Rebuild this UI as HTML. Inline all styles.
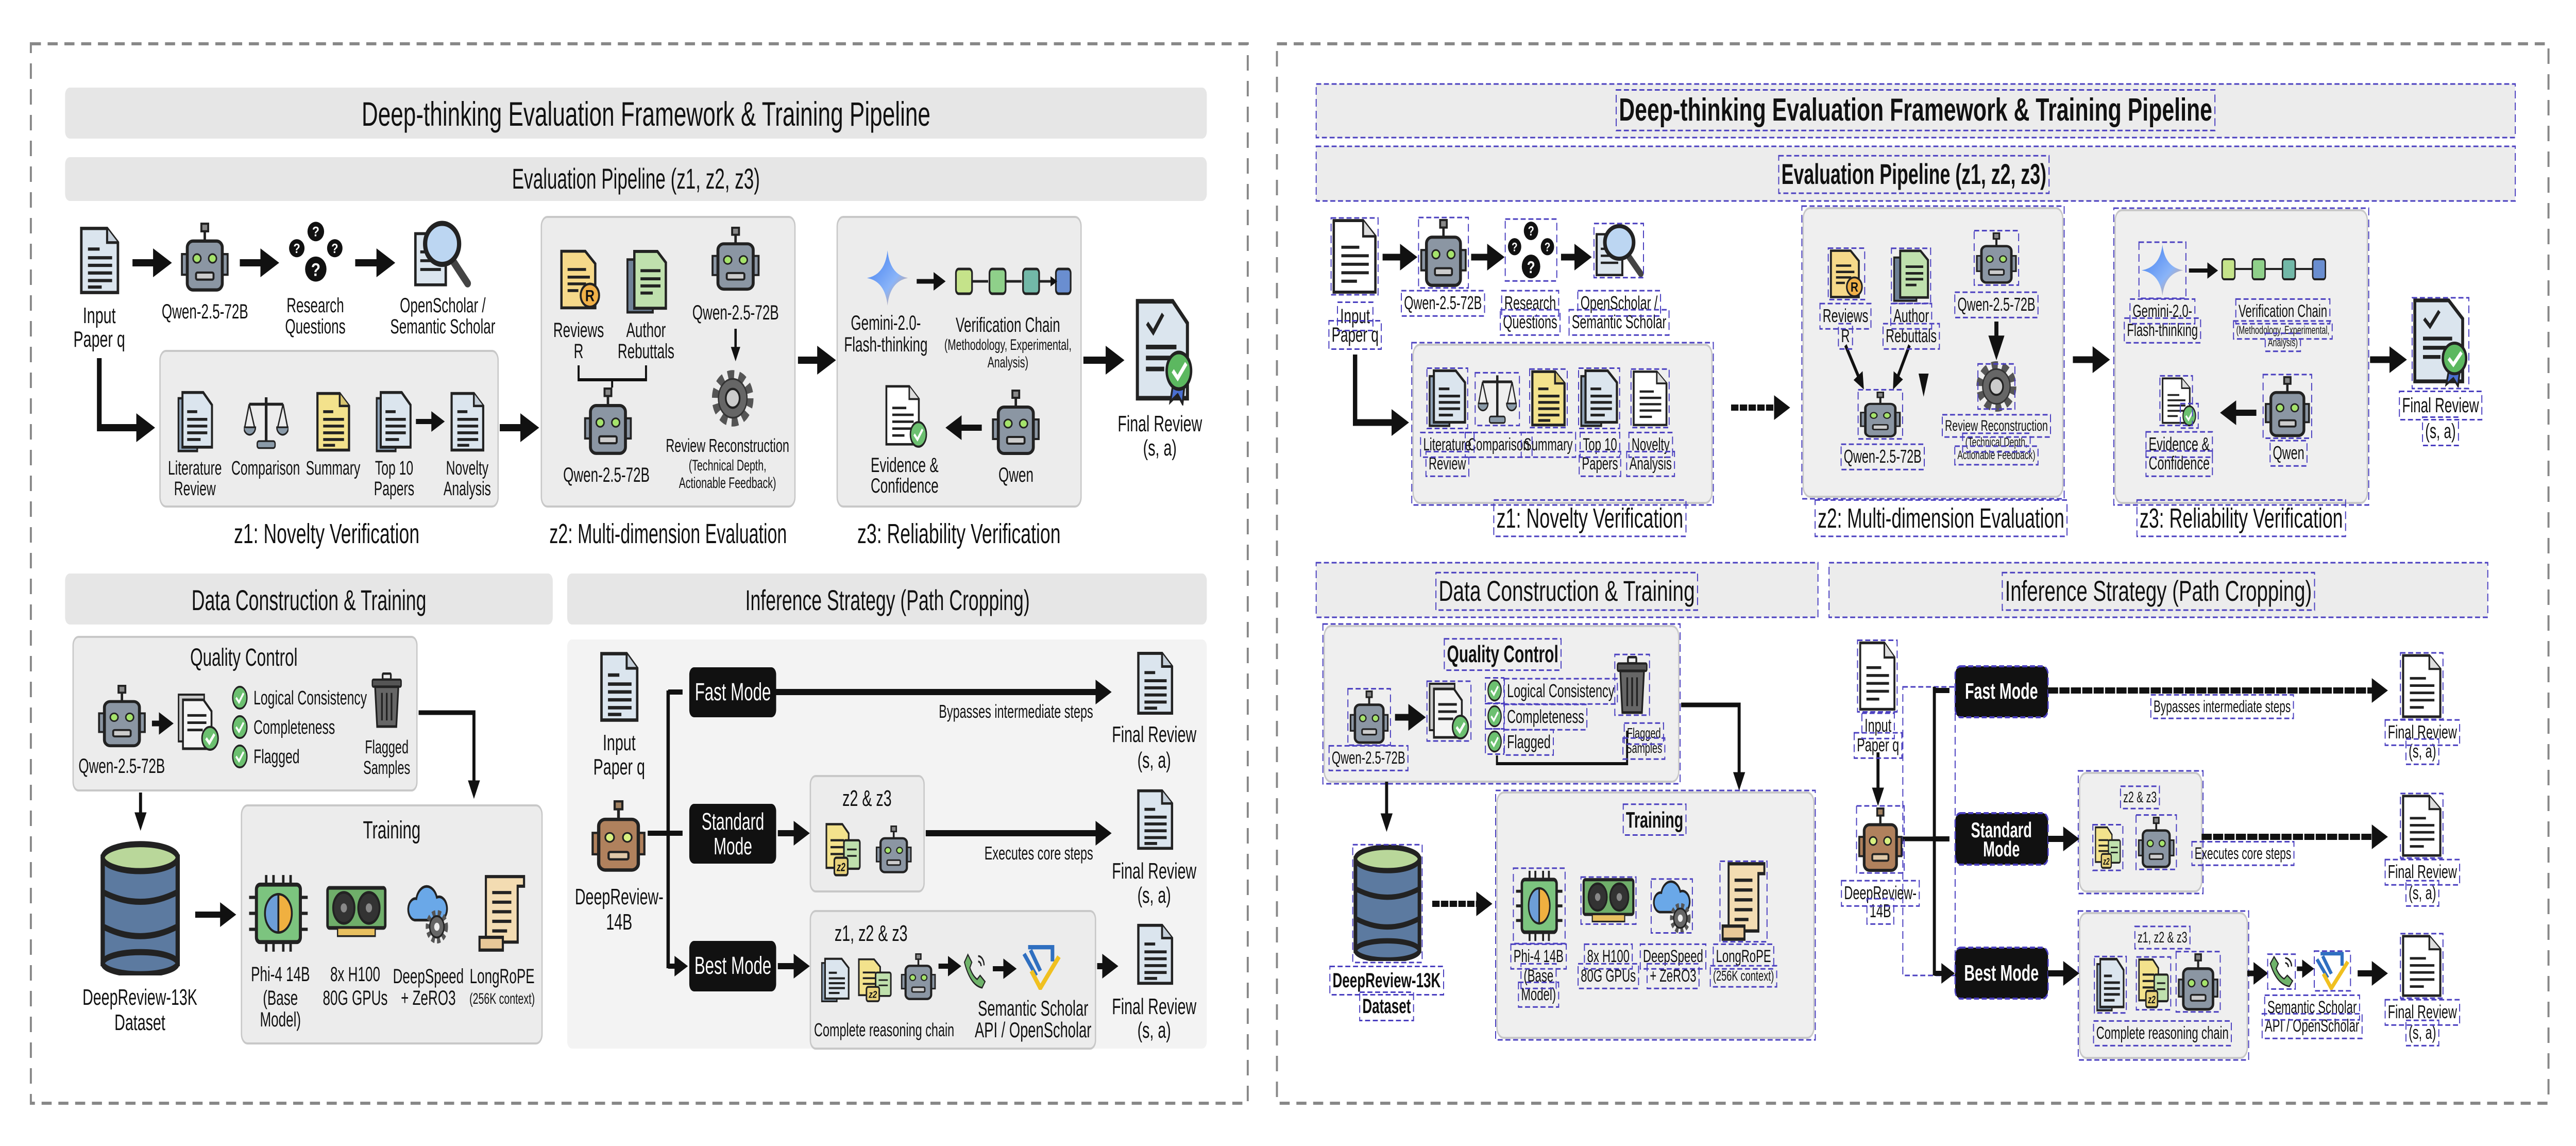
<!DOCTYPE html>
<html><head><meta charset="utf-8">
<style>
html,body{margin:0;padding:0;background:#fff;width:100%;height:100%;overflow:hidden;}
svg{display:block;width:100vw;height:100vh}
.t{font-family:"Liberation Sans",sans-serif;fill:#111;text-anchor:middle}
.w{fill:#fff}
</style></head>
<body>
<svg id="S" xmlns="http://www.w3.org/2000/svg" width="100%" height="100%" viewBox="0 0 7680 2224" preserveAspectRatio="none">
<defs>
<marker id="ah" viewBox="0 0 10 10" refX="6" refY="5" markerWidth="4" markerHeight="4" orient="auto" markerUnits="strokeWidth"><path d="M0 0L10 5L0 10z" fill="#111"/></marker>
<linearGradient id="gg" x1="0" y1="0" x2="1" y2="1"><stop offset="0" stop-color="#3d7bf0"/><stop offset="0.6" stop-color="#8ab4f8"/><stop offset="1" stop-color="#f0a060"/></linearGradient>
<symbol id="doc" viewBox="0 0 100 130" preserveAspectRatio="none"><path d="M6 6H68L94 32V124H6Z" fill="#dbe5ee" stroke="#222" stroke-width="6"/><path d="M68 6V32H94" fill="#c4ced8" stroke="#222" stroke-width="5"/><path d="M22 44H50M22 60H80M22 74H80M22 88H80M22 102H80M22 114H55" stroke="#222" stroke-width="6"/></symbol>
<symbol id="docW" viewBox="0 0 100 130" preserveAspectRatio="none"><path d="M6 6H68L94 32V124H6Z" fill="#fff" stroke="#222" stroke-width="5"/><path d="M68 6V32H94" fill="#ddd" stroke="#222" stroke-width="4"/><path d="M22 50H60M22 64H80M22 78H80M22 92H80M22 106H55" stroke="#222" stroke-width="5"/></symbol>
<symbol id="docY" viewBox="0 0 100 130" preserveAspectRatio="none"><path d="M6 6H68L94 32V124H6Z" fill="#f3e28c" stroke="#222" stroke-width="6"/><path d="M68 6V32H94" fill="#d8c570" stroke="#222" stroke-width="5"/><path d="M22 44H50M22 60H80M22 74H80M22 88H80M22 102H80M22 114H55" stroke="#222" stroke-width="6"/></symbol>
<symbol id="docS" viewBox="0 0 110 130" preserveAspectRatio="none"><path d="M4 16H60V126H4Z" fill="#8fa3b8" stroke="#222" stroke-width="5"/><path d="M16 4H78L104 30V118H16Z" fill="#dbe5ee" stroke="#222" stroke-width="6"/><path d="M30 44H60M30 60H90M30 74H90M30 88H90M30 102H70" stroke="#222" stroke-width="6"/></symbol>
<symbol id="docR" viewBox="0 0 110 130" preserveAspectRatio="none"><path d="M6 6H68L94 32V124H6Z" fill="#f6d98a" stroke="#222" stroke-width="6"/><path d="M22 44H70M22 60H80M22 74H70M22 88H50" stroke="#222" stroke-width="6"/><circle cx="80" cy="98" r="24" fill="#f0b048" stroke="#222" stroke-width="5"/><text x="80" y="110" class="t" font-size="34" font-weight="bold">R</text></symbol>
<symbol id="docGr" viewBox="0 0 110 130" preserveAspectRatio="none"><path d="M4 22H70V126H4Z" fill="#6f8196" stroke="#222" stroke-width="5"/><path d="M22 6H82L104 28V118H22Z" fill="#bfe0ad" stroke="#222" stroke-width="6"/><path d="M38 44H90M38 60H90M38 74H90M38 88H70" stroke="#222" stroke-width="6"/></symbol>
<symbol id="docs2" viewBox="0 0 120 120" preserveAspectRatio="none"><path d="M5 5H55L75 25V100H5Z" fill="#f3e28c" stroke="#222" stroke-width="5"/><path d="M18 40H60M18 55H60M18 70H60" stroke="#222" stroke-width="5"/><rect x="60" y="40" width="50" height="62" rx="5" fill="#bfe0ad" stroke="#222" stroke-width="5"/><path d="M70 60H100M70 74H100" stroke="#222" stroke-width="4"/><rect x="30" y="78" width="42" height="38" rx="6" fill="#e8d27a" stroke="#222" stroke-width="5"/><text x="51" y="107" class="t" font-size="26" font-style="italic" font-weight="bold">z2</text></symbol>
<symbol id="docsQC" viewBox="0 0 120 120" preserveAspectRatio="none"><rect x="4" y="8" width="70" height="90" fill="#ccc" stroke="#222" stroke-width="4"/><path d="M16 18H72L94 40V112H16Z" fill="#f4f4f4" stroke="#222" stroke-width="5"/><path d="M28 48H80M28 62H80M28 76H70" stroke="#222" stroke-width="5"/><circle cx="90" cy="92" r="22" fill="#6cc070" stroke="#222" stroke-width="4"/><path d="M79 92L88 101L102 84" fill="none" stroke="#fff" stroke-width="6"/></symbol>
<symbol id="robot" viewBox="0 0 100 130" preserveAspectRatio="none"><rect x="43" y="2" width="14" height="14" fill="#888" stroke="#222" stroke-width="4"/><line x1="50" y1="16" x2="50" y2="34" stroke="#222" stroke-width="5"/><rect x="3" y="58" width="13" height="38" fill="#8b96a3" stroke="#222" stroke-width="4"/><rect x="84" y="58" width="13" height="38" fill="#8b96a3" stroke="#222" stroke-width="4"/><rect x="14" y="34" width="72" height="90" rx="12" fill="#8b96a3" stroke="#222" stroke-width="6"/><circle cx="34" cy="66" r="8" fill="#a5e36b" stroke="#222" stroke-width="3"/><circle cx="66" cy="66" r="8" fill="#a5e36b" stroke="#222" stroke-width="3"/><rect x="32" y="92" width="36" height="13" rx="3" fill="#ccc" stroke="#222" stroke-width="4"/></symbol>
<symbol id="robotB" viewBox="0 0 100 130" preserveAspectRatio="none"><rect x="43" y="2" width="14" height="14" fill="#a08060" stroke="#222" stroke-width="4"/><line x1="50" y1="16" x2="50" y2="34" stroke="#222" stroke-width="5"/><rect x="3" y="58" width="13" height="38" fill="#b0815d" stroke="#222" stroke-width="4"/><rect x="84" y="58" width="13" height="38" fill="#b0815d" stroke="#222" stroke-width="4"/><rect x="14" y="34" width="72" height="90" rx="12" fill="#b0815d" stroke="#222" stroke-width="6"/><circle cx="34" cy="66" r="8" fill="#d8f080" stroke="#222" stroke-width="3"/><circle cx="66" cy="66" r="8" fill="#d8f080" stroke="#222" stroke-width="3"/><rect x="32" y="92" width="36" height="13" rx="3" fill="#e0c8a8" stroke="#222" stroke-width="4"/></symbol>
<symbol id="ques" viewBox="0 0 100 100" preserveAspectRatio="none"><circle cx="50" cy="18" r="14" fill="#111"/><circle cx="18" cy="42" r="13" fill="#111"/><circle cx="82" cy="42" r="13" fill="#111"/><circle cx="50" cy="72" r="18" fill="#111"/><text x="50" y="25" class="t w" font-size="20" font-weight="bold">?</text><text x="18" y="49" class="t w" font-size="19" font-weight="bold">?</text><text x="82" y="49" class="t w" font-size="19" font-weight="bold">?</text><text x="50" y="82" class="t w" font-size="26" font-weight="bold">?</text></symbol>
<symbol id="mag" viewBox="0 0 100 100" preserveAspectRatio="none"><rect x="8" y="20" width="50" height="70" fill="#dbe5ee" stroke="#222" stroke-width="4"/><path d="M16 45H50M16 57H50M16 69H50" stroke="#222" stroke-width="4"/><line x1="68" y1="55" x2="94" y2="88" stroke="#444" stroke-width="11" stroke-linecap="round"/><circle cx="52" cy="34" r="28" fill="#bcd6f2" stroke="#222" stroke-width="7"/></symbol>
<symbol id="scale" viewBox="0 0 100 100" preserveAspectRatio="none"><line x1="50" y1="8" x2="50" y2="86" stroke="#222" stroke-width="6"/><line x1="12" y1="20" x2="88" y2="20" stroke="#222" stroke-width="5"/><path d="M12 20L2 60M12 20L24 60M88 20L76 60M88 20L98 60" stroke="#222" stroke-width="3" fill="none"/><path d="M0 60H26A13 13 0 0 1 0 60Z" fill="#8a9aa8" stroke="#222" stroke-width="3"/><path d="M74 60H100A13 13 0 0 1 74 60Z" fill="#8a9aa8" stroke="#222" stroke-width="3"/><rect x="30" y="84" width="40" height="12" rx="4" fill="#8a9aa8" stroke="#222" stroke-width="3"/></symbol>
<symbol id="gear" viewBox="0 0 100 100" preserveAspectRatio="none"><circle cx="50" cy="50" r="38" fill="none" stroke="#555" stroke-width="20" stroke-dasharray="14 10"/><circle cx="50" cy="50" r="33" fill="#666" stroke="#333" stroke-width="3"/><circle cx="50" cy="50" r="16" fill="#ccc" stroke="#222" stroke-width="4"/></symbol>
<symbol id="trash" viewBox="0 0 100 110" preserveAspectRatio="none"><rect x="38" y="2" width="24" height="12" rx="3" fill="none" stroke="#222" stroke-width="5"/><rect x="8" y="14" width="84" height="14" rx="3" fill="#555" stroke="#222" stroke-width="4"/><path d="M16 28H84L78 106H22Z" fill="#666" stroke="#222" stroke-width="5"/><path d="M36 40V94M50 40V94M64 40V94" stroke="#222" stroke-width="5"/></symbol>
<symbol id="db" viewBox="0 0 100 110" preserveAspectRatio="none"><rect x="6" y="14" width="88" height="86" fill="#5c7aa0" stroke="#222" stroke-width="5"/><ellipse cx="50" cy="100" rx="44" ry="9" fill="#5c7aa0" stroke="#222" stroke-width="5"/><path d="M6 42Q50 58 94 42M6 70Q50 86 94 70" fill="none" stroke="#222" stroke-width="5"/><ellipse cx="50" cy="14" rx="44" ry="11" fill="#b9d79a" stroke="#222" stroke-width="5"/></symbol>
<symbol id="chip" viewBox="0 0 100 100" preserveAspectRatio="none"><path d="M30 2V16M42 2V16M58 2V16M70 2V16M30 84V98M42 84V98M58 84V98M70 84V98M2 30H16M2 50H16M2 70H16M84 30H98M84 50H98M84 70H98" stroke="#222" stroke-width="4"/><rect x="14" y="14" width="72" height="72" rx="6" fill="#7cc47f" stroke="#222" stroke-width="5"/><path d="M50 26A22 24 0 0 0 50 74Z" fill="#6d9ed8" stroke="#222" stroke-width="3"/><path d="M50 26A22 24 0 0 1 50 74Z" fill="#f0b040" stroke="#222" stroke-width="3"/></symbol>
<symbol id="gpu" viewBox="0 0 100 60" preserveAspectRatio="none"><rect x="4" y="4" width="92" height="44" rx="3" fill="#6fae6a" stroke="#222" stroke-width="4"/><circle cx="30" cy="26" r="17" fill="#333" stroke="#222" stroke-width="3"/><circle cx="70" cy="26" r="17" fill="#333" stroke="#222" stroke-width="3"/><circle cx="30" cy="26" r="5" fill="#888"/><circle cx="70" cy="26" r="5" fill="#888"/><rect x="20" y="48" width="60" height="9" fill="#e8c060" stroke="#222" stroke-width="2"/></symbol>
<symbol id="cloud" viewBox="0 0 100 100" preserveAspectRatio="none"><path d="M18 62A16 16 0 0 1 22 30A24 24 0 0 1 68 28A16 16 0 0 1 78 62Z" fill="#6aa8e8" stroke="#222" stroke-width="4"/><circle cx="68" cy="72" r="20" fill="none" stroke="#555" stroke-width="10" stroke-dasharray="7 5"/><circle cx="68" cy="72" r="16" fill="#666" stroke="#222" stroke-width="3"/><circle cx="68" cy="72" r="6" fill="#eee"/></symbol>
<symbol id="scroll" viewBox="0 0 100 100" preserveAspectRatio="none"><path d="M20 4H92V16H80V86H20Z" fill="#f3dcb2" stroke="#222" stroke-width="4"/><rect x="8" y="80" width="44" height="16" fill="#e8c898" stroke="#222" stroke-width="4"/><path d="M32 24H68M32 36H68M32 48H68M32 60H68M32 72H60" stroke="#222" stroke-width="4"/></symbol>
<symbol id="star" viewBox="0 0 100 100" preserveAspectRatio="none"><path d="M50 0Q56 44 100 50Q56 56 50 100Q44 56 0 50Q44 44 50 0Z" fill="url(#gg)"/></symbol>
<symbol id="chk" viewBox="0 0 40 40"><circle cx="20" cy="20" r="17" fill="#6cc070" stroke="#222" stroke-width="3"/><path d="M11 20L18 27L29 13" fill="none" stroke="#fff" stroke-width="4"/></symbol>
<symbol id="cert" viewBox="0 0 100 120" preserveAspectRatio="none"><path d="M6 6H64L88 30V112H6Z" fill="#dbe5ee" stroke="#222" stroke-width="5"/><path d="M22 30L32 40L48 20" fill="none" stroke="#222" stroke-width="5"/><path d="M20 56H70M20 68H60M20 80H50" stroke="#222" stroke-width="5"/><path d="M66 90L60 116L72 108L80 118L84 92Z" fill="#4a6fd0" stroke="#222" stroke-width="3"/><circle cx="74" cy="82" r="20" fill="#5cb860" stroke="#222" stroke-width="4"/><path d="M64 82L72 90L86 74" fill="none" stroke="#fff" stroke-width="5"/></symbol>
<symbol id="phone" viewBox="0 0 100 100" preserveAspectRatio="none"><path d="M20 10L36 30L28 44Q40 66 58 74L70 64L90 80L78 96Q30 90 6 30Z" fill="#6fb36a" stroke="#222" stroke-width="4"/><path d="M62 14A24 24 0 0 1 86 38M62 28A12 12 0 0 1 74 40" fill="none" stroke="#222" stroke-width="5"/></symbol>
<symbol id="ss" viewBox="0 0 100 100" preserveAspectRatio="none"><path d="M20 10H80V40M10 24L40 70M26 16L50 60" fill="none" stroke="#2f6fc0" stroke-width="9"/><path d="M28 60L50 96L96 30" fill="none" stroke="#f0c020" stroke-width="10"/></symbol>
</defs>

<!-- ================= LEFT PANEL ================= -->
<g id="L">
<rect x="92" y="85" width="3628" height="2056" fill="none" stroke="#888" stroke-width="6" stroke-dasharray="30 20"/>
<rect x="194" y="170" width="3404" height="99" rx="14" fill="#e6e6e6"/>
<text x="1926" y="244" class="t" font-size="66" textLength="1696" lengthAdjust="spacingAndGlyphs">Deep-thinking Evaluation Framework &amp; Training Pipeline</text>
<rect x="194" y="305" width="3404" height="85" rx="14" fill="#e6e6e6"/>
<text x="1896" y="366" class="t" font-size="56" textLength="739" lengthAdjust="spacingAndGlyphs">Evaluation Pipeline (z1, z2, z3)</text>

<use href="#doc" x="235" y="437" width="124" height="137"/>
<text x="296" y="627" class="t" font-size="44">Input</text><text x="296" y="673" class="t" font-size="44">Paper q</text>
<line x1="395" y1="510" x2="490" y2="510" stroke="#111" stroke-width="14" marker-end="url(#ah)"/>
<use href="#robot" x="538" y="432" width="145" height="137"/>
<text x="611" y="618" class="t" font-size="40">Qwen-2.5-72B</text>
<line x1="715" y1="510" x2="810" y2="510" stroke="#111" stroke-width="14" marker-end="url(#ah)"/>
<use href="#ques" x="853" y="425" width="177" height="135"/>
<text x="940" y="606" class="t" font-size="40">Research</text><text x="940" y="647" class="t" font-size="40">Questions</text>
<line x1="1059" y1="510" x2="1156" y2="510" stroke="#111" stroke-width="14" marker-end="url(#ah)"/>
<use href="#mag" x="1224" y="425" width="181" height="142"/>
<text x="1320" y="606" class="t" font-size="40">OpenScholar /</text><text x="1320" y="647" class="t" font-size="40">Semantic Scholar</text>
<path d="M296 695V830H440" fill="none" stroke="#111" stroke-width="14" marker-end="url(#ah)"/>

<rect x="477" y="681" width="1008" height="302" rx="18" fill="#ececec" stroke="#c8c8c8" stroke-width="4"/>
<use href="#docS" x="528" y="758" width="110" height="121"/>
<use href="#scale" x="727" y="762" width="133" height="112"/>
<use href="#docY" x="940" y="758" width="107" height="121"/>
<use href="#docS" x="1119" y="758" width="111" height="121"/>
<line x1="1240" y1="818" x2="1310" y2="818" stroke="#111" stroke-width="10" marker-end="url(#ah)"/>
<use href="#doc" x="1340" y="758" width="107" height="121"/>
<g font-size="38"><text x="581" y="921" class="t">Literature</text><text x="581" y="961" class="t">Review</text>
<text x="792" y="921" class="t">Comparison</text><text x="993" y="921" class="t">Summary</text>
<text x="1175" y="921" class="t">Top 10</text><text x="1175" y="961" class="t">Papers</text>
<text x="1393" y="921" class="t">Novelty</text><text x="1393" y="961" class="t">Analysis</text></g>
<text x="974" y="1054" class="t" font-size="54" textLength="553" lengthAdjust="spacingAndGlyphs">z1: Novelty Verification</text>
<line x1="1490" y1="830" x2="1585" y2="830" stroke="#111" stroke-width="14" marker-end="url(#ah)"/>

<rect x="1614" y="421" width="756" height="562" rx="18" fill="#ececec" stroke="#c8c8c8" stroke-width="4"/>
<use href="#docR" x="1667" y="482" width="126" height="121"/>
<use href="#docGr" x="1866" y="482" width="126" height="128"/>
<text x="1725" y="654" class="t" font-size="40">Reviews</text><text x="1725" y="695" class="t" font-size="40">R</text>
<text x="1926" y="654" class="t" font-size="40">Author</text><text x="1926" y="695" class="t" font-size="40">Rebuttals</text>
<path d="M1725 709V737H1926V709M1825 737V752" fill="none" stroke="#111" stroke-width="6"/>
<use href="#robot" x="1740" y="752" width="145" height="134"/>
<text x="1808" y="935" class="t" font-size="40">Qwen-2.5-72B</text>
<use href="#robot" x="2120" y="440" width="146" height="127"/>
<text x="2193" y="620" class="t" font-size="40">Qwen-2.5-72B</text>
<line x1="2193" y1="638" x2="2193" y2="690" stroke="#111" stroke-width="7" marker-end="url(#ah)"/>
<use href="#gear" x="2120" y="716" width="129" height="114"/>
<text x="2169" y="877" class="t" font-size="36">Review Reconstruction</text>
<text x="2169" y="913" class="t" font-size="30">(Technical Depth,</text>
<text x="2169" y="947" class="t" font-size="30">Actionable Feedback)</text>
<text x="1992" y="1054" class="t" font-size="54" textLength="708" lengthAdjust="spacingAndGlyphs">z2: Multi-dimension Evaluation</text>
<line x1="2379" y1="699" x2="2470" y2="699" stroke="#111" stroke-width="14" marker-end="url(#ah)"/>

<rect x="2496" y="421" width="727" height="562" rx="18" fill="#ececec" stroke="#c8c8c8" stroke-width="4"/>
<use href="#star" x="2585" y="486" width="122" height="107"/>
<line x1="2733" y1="546" x2="2805" y2="546" stroke="#111" stroke-width="9" marker-end="url(#ah)"/>
<g stroke="#222" stroke-width="5"><rect x="2850" y="522" width="48" height="48" rx="8" fill="#c5e38a"/><rect x="2950" y="522" width="48" height="48" rx="8" fill="#8fd08a"/><rect x="3050" y="522" width="48" height="48" rx="8" fill="#72b8a8"/><rect x="3148" y="522" width="44" height="48" rx="8" fill="#6a8ed0"/>
<path d="M2898 546H2946M2998 546H3046M3098 546H3144" marker-end="url(#ah)" stroke-width="5"/></g>
<text x="2641" y="640" class="t" font-size="40">Gemini-2.0-</text><text x="2641" y="682" class="t" font-size="40">Flash-thinking</text>
<text x="3005" y="644" class="t" font-size="40">Verification Chain</text>
<text x="3005" y="679" class="t" font-size="30">(Methodology, Experimental,</text>
<text x="3005" y="713" class="t" font-size="30">Analysis)</text>
<use href="#docW" x="2636" y="744" width="110" height="124"/>
<use href="#chk" x="2710" y="815" width="56" height="56"/>
<line x1="2927" y1="830" x2="2838" y2="830" stroke="#111" stroke-width="12" marker-end="url(#ah)"/>
<use href="#robot" x="2956" y="756" width="145" height="130"/>
<text x="3029" y="935" class="t" font-size="40">Qwen</text>
<text x="2697" y="916" class="t" font-size="40">Evidence &amp;</text><text x="2697" y="956" class="t" font-size="40">Confidence</text>
<text x="2859" y="1054" class="t" font-size="54" textLength="606" lengthAdjust="spacingAndGlyphs">z3: Reliability Verification</text>
<line x1="3230" y1="699" x2="3330" y2="699" stroke="#111" stroke-width="14" marker-end="url(#ah)"/>
<use href="#cert" x="3380" y="574" width="182" height="213"/>
<text x="3458" y="837" class="t" font-size="44">Final Review</text><text x="3458" y="884" class="t" font-size="44">(s, a)</text>

<rect x="194" y="1113" width="1454" height="99" rx="14" fill="#e6e6e6"/>
<text x="921" y="1184" class="t" font-size="56" textLength="700" lengthAdjust="spacingAndGlyphs">Data Construction &amp; Training</text>
<rect x="1691" y="1113" width="1907" height="99" rx="14" fill="#e6e6e6"/>
<text x="2646" y="1184" class="t" font-size="56" textLength="848" lengthAdjust="spacingAndGlyphs">Inference Strategy (Path Cropping)</text>

<rect x="218" y="1236" width="1025" height="298" rx="16" fill="#ececec" stroke="#c8c8c8" stroke-width="4"/>
<text x="727" y="1292" class="t" font-size="48" textLength="320" lengthAdjust="spacingAndGlyphs">Quality Control</text>
<use href="#robot" x="291" y="1329" width="145" height="124"/>
<text x="363" y="1500" class="t" font-size="40">Qwen-2.5-72B</text>
<line x1="453" y1="1404" x2="500" y2="1404" stroke="#111" stroke-width="11" marker-end="url(#ah)"/>
<use href="#docsQC" x="528" y="1340" width="131" height="121"/>
<use href="#chk" x="690" y="1329" width="50" height="50"/><use href="#chk" x="690" y="1386" width="50" height="50"/><use href="#chk" x="690" y="1443" width="50" height="50"/>
<g font-size="38" text-anchor="start" font-family="Liberation Sans,sans-serif" fill="#111"><text x="756" y="1367">Logical Consistency</text><text x="756" y="1424">Completeness</text><text x="756" y="1481">Flagged</text></g>
<use href="#trash" x="1102" y="1305" width="102" height="109"/>
<text x="1153" y="1462" class="t" font-size="36">Flagged</text><text x="1153" y="1502" class="t" font-size="36">Samples</text>
<path d="M1248 1383H1413V1536" fill="none" stroke="#111" stroke-width="9" marker-end="url(#ah)"/>
<line x1="419" y1="1538" x2="419" y2="1598" stroke="#111" stroke-width="9" marker-end="url(#ah)"/>
<use href="#db" x="291" y="1631" width="254" height="262"/>
<text x="417" y="1950" class="t" font-size="44">DeepReview-13K</text><text x="417" y="1999" class="t" font-size="44">Dataset</text>
<line x1="582" y1="1775" x2="685" y2="1775" stroke="#111" stroke-width="12" marker-end="url(#ah)"/>
<rect x="720" y="1563" width="896" height="462" rx="18" fill="#ececec" stroke="#c8c8c8" stroke-width="4"/>
<text x="1168" y="1627" class="t" font-size="48">Training</text>
<use href="#chip" x="739" y="1695" width="182" height="155"/>
<use href="#gpu" x="969" y="1716" width="187" height="106"/>
<use href="#cloud" x="1212" y="1705" width="133" height="130"/>
<use href="#scroll" x="1417" y="1695" width="158" height="155"/>
<g font-size="40"><text x="836" y="1904" class="t">Phi-4 14B</text><text x="836" y="1950" class="t">(Base</text><text x="836" y="1992" class="t">Model)</text>
<text x="1059" y="1904" class="t">8x H100</text><text x="1059" y="1950" class="t">80G GPUs</text>
<text x="1277" y="1908" class="t">DeepSpeed</text><text x="1277" y="1950" class="t">+ ZeRO3</text>
<text x="1497" y="1908" class="t">LongRoPE</text><text x="1497" y="1948" class="t" font-size="30">(256K context)</text></g>

<rect x="1691" y="1241" width="1907" height="794" rx="14" fill="#f3f3f3"/>
<use href="#doc" x="1786" y="1262" width="121" height="142"/>
<text x="1846" y="1456" class="t" font-size="44">Input</text><text x="1846" y="1503" class="t" font-size="44">Paper q</text>
<use href="#robotB" x="1762" y="1553" width="164" height="142"/>
<text x="1846" y="1755" class="t" font-size="44">DeepReview-</text><text x="1846" y="1804" class="t" font-size="44">14B</text>
<line x1="1931" y1="1617" x2="1992" y2="1617" stroke="#111" stroke-width="10"/>
<line x1="1992" y1="1340" x2="1992" y2="1879" stroke="#111" stroke-width="10"/>
<path d="M1992 1343H2035M1992 1617H2035M1992 1875H2035" stroke="#111" stroke-width="10" marker-end="url(#ah)"/>
<rect x="2055" y="1295" width="259" height="97" rx="14" fill="#111"/>
<text x="2185" y="1359" class="t w" font-size="48">Fast Mode</text>
<rect x="2055" y="1560" width="259" height="116" rx="14" fill="#111"/>
<text x="2185" y="1610" class="t w" font-size="46">Standard</text><text x="2185" y="1658" class="t w" font-size="46">Mode</text>
<rect x="2055" y="1826" width="259" height="98" rx="14" fill="#111"/>
<text x="2185" y="1890" class="t w" font-size="48">Best Mode</text>
<line x1="2314" y1="1343" x2="3295" y2="1343" stroke="#111" stroke-width="12" marker-end="url(#ah)"/>
<text x="3259" y="1393" font-size="36" font-family="Liberation Sans,sans-serif" text-anchor="end" fill="#111">Bypasses intermediate steps</text>
<line x1="2319" y1="1617" x2="2395" y2="1617" stroke="#111" stroke-width="12" marker-end="url(#ah)"/>
<rect x="2416" y="1506" width="339" height="224" rx="16" fill="#ececec" stroke="#c8c8c8" stroke-width="4"/>
<text x="2585" y="1564" class="t" font-size="44">z2 &amp; z3</text>
<use href="#docs2" x="2459" y="1595" width="114" height="107"/>
<use href="#robot" x="2610" y="1602" width="109" height="95"/>
<line x1="2760" y1="1617" x2="3295" y2="1617" stroke="#111" stroke-width="12" marker-end="url(#ah)"/>
<text x="3259" y="1668" font-size="36" font-family="Liberation Sans,sans-serif" text-anchor="end" fill="#111">Executes core steps</text>
<line x1="2319" y1="1875" x2="2395" y2="1875" stroke="#111" stroke-width="12" marker-end="url(#ah)"/>
<rect x="2416" y="1768" width="850" height="267" rx="16" fill="#ececec" stroke="#c8c8c8" stroke-width="4"/>
<text x="2597" y="1826" class="t" font-size="44">z1, z2 &amp; z3</text>
<use href="#docS" x="2447" y="1858" width="88" height="88"/>
<use href="#docs2" x="2556" y="1858" width="109" height="88"/>
<use href="#robot" x="2685" y="1850" width="106" height="93"/>
<line x1="2798" y1="1875" x2="2850" y2="1875" stroke="#111" stroke-width="10" marker-end="url(#ah)"/>
<use href="#phone" x="2871" y="1845" width="73" height="75"/>
<line x1="2960" y1="1880" x2="3015" y2="1880" stroke="#111" stroke-width="10" marker-end="url(#ah)"/>
<use href="#ss" x="3041" y="1829" width="121" height="92"/>
<text x="2636" y="2011" class="t" font-size="36">Complete reasoning chain</text>
<text x="3080" y="1971" class="t" font-size="42">Semantic Scholar</text><text x="3080" y="2013" class="t" font-size="42">API / OpenScholar</text>
<line x1="3271" y1="1875" x2="3315" y2="1875" stroke="#111" stroke-width="12" marker-end="url(#ah)"/>
<use href="#doc" x="3387" y="1262" width="114" height="128"/>
<text x="3441" y="1440" class="t" font-size="44">Final Review</text><text x="3441" y="1490" class="t" font-size="44">(s, a)</text>
<use href="#doc" x="3387" y="1529" width="114" height="123"/>
<text x="3441" y="1705" class="t" font-size="44">Final Review</text><text x="3441" y="1752" class="t" font-size="44">(s, a)</text>
<use href="#doc" x="3387" y="1790" width="114" height="124"/>
<text x="3441" y="1968" class="t" font-size="44">Final Review</text><text x="3441" y="2014" class="t" font-size="44">(s, a)</text>
</g>

<!-- ================= RIGHT PANEL ================= -->
<rect x="3807" y="85" width="3791" height="2056" fill="none" stroke="#888" stroke-width="6" stroke-dasharray="30 20"/>
<g id="Rb">
<rect x="3924" y="163" width="3575" height="104" fill="#ececec" stroke="#4a3fc0" stroke-width="3" stroke-dasharray="15 8"/>
<rect x="3924" y="284" width="3575" height="106" fill="#ececec" stroke="#4a3fc0" stroke-width="3" stroke-dasharray="15 8"/>
<rect x="4213" y="669" width="891" height="307" rx="20" fill="#efefef" stroke="#c8c8c8" stroke-width="4"/>
<rect x="4209" y="665" width="899" height="315" fill="none" stroke="#4a3fc0" stroke-width="3" stroke-dasharray="15 8"/>
<rect x="5376" y="404" width="774" height="560" rx="20" fill="#efefef" stroke="#c8c8c8" stroke-width="4"/>
<rect x="5372" y="400" width="782" height="568" fill="none" stroke="#4a3fc0" stroke-width="3" stroke-dasharray="15 8"/>
<rect x="6306" y="408" width="752" height="568" rx="20" fill="#efefef" stroke="#c8c8c8" stroke-width="4"/>
<rect x="6302" y="404" width="760" height="576" fill="none" stroke="#4a3fc0" stroke-width="3" stroke-dasharray="15 8"/>
<rect x="3924" y="1092" width="1496" height="106" fill="#ececec" stroke="#4a3fc0" stroke-width="3" stroke-dasharray="15 8"/>
<rect x="5453" y="1092" width="1964" height="106" fill="#ececec" stroke="#4a3fc0" stroke-width="3" stroke-dasharray="15 8"/>
<rect x="3948" y="1215" width="1057" height="302" rx="20" fill="#efefef" stroke="#c8c8c8" stroke-width="4"/>
<rect x="3944" y="1211" width="1065" height="310" fill="none" stroke="#4a3fc0" stroke-width="3" stroke-dasharray="15 8"/>
<rect x="4463" y="1538" width="945" height="476" rx="20" fill="#efefef" stroke="#c8c8c8" stroke-width="4"/>
<rect x="4459" y="1534" width="953" height="484" fill="none" stroke="#4a3fc0" stroke-width="3" stroke-dasharray="15 8"/>
<rect x="6200" y="1500" width="364" height="230" rx="20" fill="#efefef" stroke="#c8c8c8" stroke-width="4"/>
<rect x="6196" y="1496" width="372" height="238" fill="none" stroke="#4a3fc0" stroke-width="3" stroke-dasharray="15 8"/>
<rect x="6200" y="1772" width="500" height="281" rx="20" fill="#efefef" stroke="#c8c8c8" stroke-width="4"/>
<rect x="6196" y="1768" width="508" height="289" fill="none" stroke="#4a3fc0" stroke-width="3" stroke-dasharray="15 8"/>
<rect x="5673" y="1333" width="156" height="560" fill="none" stroke="#4a3fc0" stroke-width="3" stroke-dasharray="15 8"/>
</g>
<g id="R">
<text x="5711" y="234" class="t" font-size="62" font-weight="bold" textLength="1769" lengthAdjust="spacingAndGlyphs">Deep-thinking Evaluation Framework &amp; Training Pipeline</text>
<text x="5706" y="357" class="t" font-size="56" font-weight="bold" textLength="790" lengthAdjust="spacingAndGlyphs">Evaluation Pipeline (z1, z2, z3)</text>

<use href="#docW" x="3968" y="421" width="141" height="153"/>
<text x="4040" y="627" class="t" font-size="40">Input</text><text x="4040" y="663" class="t" font-size="40">Paper q</text>
<line x1="4122" y1="499" x2="4205" y2="499" stroke="#111" stroke-width="13" marker-end="url(#ah)"/>
<use href="#robot" x="4233" y="425" width="141" height="135"/>
<text x="4302" y="600" class="t" font-size="36">Qwen-2.5-72B</text>
<line x1="4386" y1="499" x2="4465" y2="499" stroke="#111" stroke-width="13" marker-end="url(#ah)"/>
<use href="#ques" x="4488" y="425" width="153" height="128"/>
<text x="4562" y="600" class="t" font-size="36">Research</text><text x="4562" y="637" class="t" font-size="36">Questions</text>
<line x1="4654" y1="499" x2="4725" y2="499" stroke="#111" stroke-width="13" marker-end="url(#ah)"/>
<use href="#mag" x="4748" y="432" width="153" height="113"/>
<text x="4827" y="600" class="t" font-size="36">OpenScholar /</text><text x="4827" y="637" class="t" font-size="36">Semantic Scholar</text>
<path d="M4040 688V820H4180" fill="none" stroke="#111" stroke-width="13" marker-end="url(#ah)"/>

<use href="#docS" x="4258" y="716" width="116" height="114"/>
<use href="#scale" x="4406" y="720" width="116" height="105"/>
<use href="#docY" x="4562" y="716" width="109" height="114"/>
<use href="#docS" x="4710" y="716" width="117" height="114"/>
<use href="#docW" x="4864" y="716" width="111" height="114"/>
<g font-size="34"><text x="4315" y="874" class="t">Literature</text><text x="4315" y="911" class="t">Review</text>
<text x="4468" y="874" class="t">Comparison</text><text x="4616" y="874" class="t">Summary</text>
<text x="4770" y="874" class="t">Top 10</text><text x="4770" y="911" class="t">Papers</text>
<text x="4921" y="874" class="t">Novelty</text><text x="4921" y="911" class="t">Analysis</text></g>
<text x="4740" y="1024" class="t" font-size="54" textLength="557" lengthAdjust="spacingAndGlyphs">z1: Novelty Verification</text>
<line x1="5161" y1="791" x2="5318" y2="791" stroke="#111" stroke-width="12" stroke-dasharray="22 4" marker-end="url(#ah)"/>

<use href="#docR" x="5453" y="482" width="104" height="99"/>
<use href="#docGr" x="5643" y="482" width="111" height="105"/>
<text x="5502" y="625" class="t" font-size="36">Reviews</text><text x="5502" y="664" class="t" font-size="36">R</text>
<text x="5698" y="625" class="t" font-size="36">Author</text><text x="5698" y="664" class="t" font-size="36">Rebuttals</text>
<line x1="5502" y1="670" x2="5550" y2="745" stroke="#111" stroke-width="8" marker-end="url(#ah)"/>
<line x1="5693" y1="670" x2="5650" y2="745" stroke="#111" stroke-width="8" marker-end="url(#ah)"/>
<path d="M5720 725H5750L5735 770Z" fill="#111"/>
<use href="#robot" x="5544" y="760" width="124" height="91"/>
<text x="5613" y="898" class="t" font-size="36">Qwen-2.5-72B</text>
<use href="#robot" x="5890" y="451" width="124" height="102"/>
<text x="5952" y="603" class="t" font-size="36">Qwen-2.5-72B</text>
<line x1="5952" y1="624" x2="5952" y2="680" stroke="#111" stroke-width="12" marker-end="url(#ah)"/>
<use href="#gear" x="5890" y="699" width="124" height="102"/>
<text x="5952" y="836" class="t" font-size="30">Review Reconstruction</text>
<text x="5952" y="866" class="t" font-size="24">(Technical Depth,</text><text x="5952" y="891" class="t" font-size="24">Actionable Feedback)</text>
<text x="5787" y="1024" class="t" font-size="54" textLength="735" lengthAdjust="spacingAndGlyphs">z2: Multi-dimension Evaluation</text>
<line x1="6180" y1="698" x2="6270" y2="698" stroke="#111" stroke-width="13" marker-end="url(#ah)"/>

<use href="#star" x="6385" y="475" width="124" height="99"/>
<line x1="6526" y1="525" x2="6600" y2="525" stroke="#111" stroke-width="8" marker-end="url(#ah)"/>
<g stroke="#222" stroke-width="4"><rect x="6625" y="503" width="38" height="39" rx="6" fill="#c5e38a"/><rect x="6715" y="503" width="38" height="39" rx="6" fill="#8fd08a"/><rect x="6805" y="503" width="38" height="39" rx="6" fill="#72b8a8"/><rect x="6895" y="503" width="38" height="39" rx="6" fill="#6a8ed0"/><path d="M6663 522H6715M6753 522H6805M6843 522H6895"/></g>
<text x="6447" y="615" class="t" font-size="34">Gemini-2.0-</text><text x="6447" y="652" class="t" font-size="34">Flash-thinking</text>
<text x="6806" y="615" class="t" font-size="34">Verification Chain</text>
<text x="6806" y="648" class="t" font-size="22">(Methodology, Experimental,</text><text x="6806" y="672" class="t" font-size="22">Analysis)</text>
<use href="#docW" x="6442" y="730" width="92" height="95"/>
<use href="#chk" x="6505" y="785" width="44" height="44"/>
<line x1="6727" y1="801" x2="6638" y2="801" stroke="#111" stroke-width="12" marker-end="url(#ah)"/>
<use href="#robot" x="6751" y="730" width="137" height="121"/>
<text x="6823" y="891" class="t" font-size="36">Qwen</text>
<text x="6497" y="874" class="t" font-size="36">Evidence &amp;</text><text x="6497" y="911" class="t" font-size="36">Confidence</text>
<text x="6682" y="1024" class="t" font-size="54" textLength="606" lengthAdjust="spacingAndGlyphs">z3: Reliability Verification</text>
<line x1="7066" y1="698" x2="7155" y2="698" stroke="#111" stroke-width="13" marker-end="url(#ah)"/>
<use href="#cert" x="7189" y="574" width="174" height="178"/>
<text x="7276" y="800" class="t" font-size="40">Final Review</text><text x="7276" y="850" class="t" font-size="40">(s, a)</text>

<text x="4671" y="1166" class="t" font-size="56" textLength="764" lengthAdjust="spacingAndGlyphs">Data Construction &amp; Training</text>
<text x="6435" y="1166" class="t" font-size="56" textLength="915" lengthAdjust="spacingAndGlyphs">Inference Strategy (Path Cropping)</text>

<text x="4480" y="1285" class="t" font-size="46" font-weight="bold">Quality Control</text>
<use href="#robot" x="4023" y="1340" width="118" height="106"/>
<text x="4080" y="1482" class="t" font-size="34">Qwen-2.5-72B</text>
<line x1="4159" y1="1392" x2="4230" y2="1392" stroke="#111" stroke-width="13" marker-end="url(#ah)"/>
<use href="#docsQC" x="4258" y="1319" width="128" height="120"/>
<use href="#chk" x="4433" y="1317" width="46" height="46"/><use href="#chk" x="4433" y="1367" width="46" height="46"/><use href="#chk" x="4433" y="1416" width="46" height="46"/>
<g font-size="36" text-anchor="start" font-family="Liberation Sans,sans-serif" fill="#111"><text x="4493" y="1353">Logical Consistency</text><text x="4493" y="1403">Completeness</text><text x="4493" y="1452">Flagged</text></g>
<path d="M4463 1466V1482H4851V1418" fill="none" stroke="#111" stroke-width="6"/>
<use href="#trash" x="4814" y="1273" width="104" height="114"/>
<text x="4901" y="1432" class="t" font-size="28">Flagged</text><text x="4901" y="1461" class="t" font-size="28">Samples</text>
<path d="M5012 1368H5185V1520" fill="none" stroke="#111" stroke-width="9" marker-end="url(#ah)"/>
<line x1="4134" y1="1517" x2="4134" y2="1600" stroke="#111" stroke-width="9" marker-end="url(#ah)"/>
<use href="#db" x="4028" y="1638" width="217" height="227"/>
<text x="4134" y="1916" class="t" font-size="40" font-weight="bold">DeepReview-13K</text><text x="4134" y="1966" class="t" font-size="40" font-weight="bold">Dataset</text>
<line x1="4270" y1="1754" x2="4430" y2="1754" stroke="#111" stroke-width="12" stroke-dasharray="22 4" marker-end="url(#ah)"/>
<text x="4933" y="1606" class="t" font-size="44" font-weight="bold">Training</text>
<use href="#chip" x="4517" y="1687" width="144" height="142"/>
<use href="#gpu" x="4715" y="1701" width="161" height="92"/>
<use href="#cloud" x="4926" y="1697" width="123" height="118"/>
<use href="#scroll" x="5124" y="1670" width="148" height="159"/>
<g font-size="34"><text x="4587" y="1867" class="t">Phi-4 14B</text><text x="4587" y="1905" class="t">(Base</text><text x="4587" y="1941" class="t">Model)</text>
<text x="4795" y="1867" class="t">8x H100</text><text x="4795" y="1905" class="t">80G GPUs</text>
<text x="4988" y="1867" class="t">DeepSpeed</text><text x="4988" y="1905" class="t">+ ZeRO3</text>
<text x="5198" y="1867" class="t">LongRoPE</text><text x="5198" y="1903" class="t" font-size="28">(256K context)</text></g>

<use href="#docW" x="5539" y="1241" width="116" height="142"/>
<text x="5599" y="1420" class="t" font-size="36">Input</text><text x="5599" y="1458" class="t" font-size="36">Paper q</text>
<line x1="5599" y1="1460" x2="5599" y2="1550" stroke="#111" stroke-width="9" marker-end="url(#ah)"/>
<use href="#robotB" x="5539" y="1567" width="134" height="128"/>
<text x="5606" y="1745" class="t" font-size="36">DeepReview-</text><text x="5606" y="1780" class="t" font-size="36">14B</text>
<line x1="5673" y1="1628" x2="5767" y2="1628" stroke="#111" stroke-width="9"/>
<line x1="5767" y1="1333" x2="5767" y2="1893" stroke="#111" stroke-width="9"/>
<path d="M5767 1340H5812M5767 1628H5812M5767 1889H5812" stroke="#111" stroke-width="10" marker-end="url(#ah)"/>
<rect x="5829" y="1293" width="277" height="99" rx="16" fill="#111" stroke="#4a3fc0" stroke-width="4" stroke-dasharray="15 8"/>
<text x="5967" y="1356" class="t w" font-size="44" font-weight="bold">Fast Mode</text>
<rect x="5829" y="1578" width="277" height="100" rx="16" fill="#111" stroke="#4a3fc0" stroke-width="4" stroke-dasharray="15 8"/>
<text x="5967" y="1625" class="t w" font-size="42" font-weight="bold">Standard</text><text x="5967" y="1662" class="t w" font-size="42" font-weight="bold">Mode</text>
<rect x="5829" y="1839" width="277" height="99" rx="16" fill="#111" stroke="#4a3fc0" stroke-width="4" stroke-dasharray="15 8"/>
<text x="5967" y="1903" class="t w" font-size="44" font-weight="bold">Best Mode</text>
<line x1="6106" y1="1340" x2="7100" y2="1340" stroke="#111" stroke-width="12" stroke-dasharray="30 4" marker-end="url(#ah)"/>
<text x="6625" y="1382" class="t" font-size="32">Bypasses intermediate steps</text>
<line x1="6106" y1="1628" x2="6180" y2="1628" stroke="#111" stroke-width="12" marker-end="url(#ah)"/>
<text x="6380" y="1557" class="t" font-size="30">z2 &amp; z3</text>
<use href="#docs2" x="6244" y="1602" width="84" height="85"/>
<use href="#robot" x="6373" y="1585" width="111" height="102"/>
<line x1="6564" y1="1624" x2="7100" y2="1624" stroke="#111" stroke-width="12" stroke-dasharray="30 4" marker-end="url(#ah)"/>
<text x="6687" y="1667" class="t" font-size="32">Executes core steps</text>
<line x1="6106" y1="1889" x2="6180" y2="1889" stroke="#111" stroke-width="12" marker-end="url(#ah)"/>
<text x="6447" y="1829" class="t" font-size="30">z1, z2 &amp; z3</text>
<use href="#docS" x="6249" y="1858" width="87" height="106"/>
<use href="#docs2" x="6373" y="1858" width="99" height="100"/>
<use href="#robot" x="6492" y="1850" width="123" height="114"/>
<text x="6447" y="2016" class="t" font-size="34">Complete reasoning chain</text>
<line x1="6700" y1="1889" x2="6745" y2="1889" stroke="#111" stroke-width="11" marker-end="url(#ah)"/>
<use href="#phone" x="6764" y="1850" width="79" height="67"/>
<line x1="6848" y1="1880" x2="6885" y2="1880" stroke="#111" stroke-width="9" marker-end="url(#ah)"/>
<use href="#ss" x="6897" y="1843" width="107" height="78"/>
<text x="6893" y="1966" class="t" font-size="34">Semantic Scholar</text><text x="6893" y="2002" class="t" font-size="34">API / OpenScholar</text>
<line x1="7029" y1="1889" x2="7100" y2="1889" stroke="#111" stroke-width="12" marker-end="url(#ah)"/>
<use href="#docW" x="7157" y="1266" width="126" height="131"/>
<text x="7222" y="1433" class="t" font-size="36">Final Review</text><text x="7222" y="1470" class="t" font-size="36">(s, a)</text>
<use href="#docW" x="7157" y="1539" width="126" height="127"/>
<text x="7222" y="1704" class="t" font-size="36">Final Review</text><text x="7222" y="1745" class="t" font-size="36">(s, a)</text>
<use href="#docW" x="7157" y="1811" width="126" height="127"/>
<text x="7222" y="1976" class="t" font-size="36">Final Review</text><text x="7222" y="2016" class="t" font-size="36">(s, a)</text>
</g>
<g id="Rd"></g>
</svg>
<script>
(function(){
  var NS="http://www.w3.org/2000/svg";
  var g=document.getElementById("R"), out=document.getElementById("Rd");
  var els=g.querySelectorAll("text,use");
  for(var i=0;i<els.length;i++){
    var e=els[i]; if(e.getAttribute("class")&&e.getAttribute("class").indexOf("w")>=0) continue;
    var b; try{b=e.getBBox();}catch(x){continue;}
    if(!b||b.width<2) continue;
    var x0=Math.max(0,b.x-8), y0=Math.max(0,b.y-5);
    var w=Math.min(7680-x0,b.width+16), h=Math.min(2224-y0,b.height+10);
    var r=document.createElementNS(NS,"rect");
    r.setAttribute("x",x0);r.setAttribute("y",y0);
    r.setAttribute("width",w);r.setAttribute("height",h);
    r.setAttribute("fill","none");r.setAttribute("stroke","#4a3fc0");
    r.setAttribute("stroke-width","3");r.setAttribute("stroke-dasharray","15 8");
    out.appendChild(r);
  }
})();
</script>
</body></html>
